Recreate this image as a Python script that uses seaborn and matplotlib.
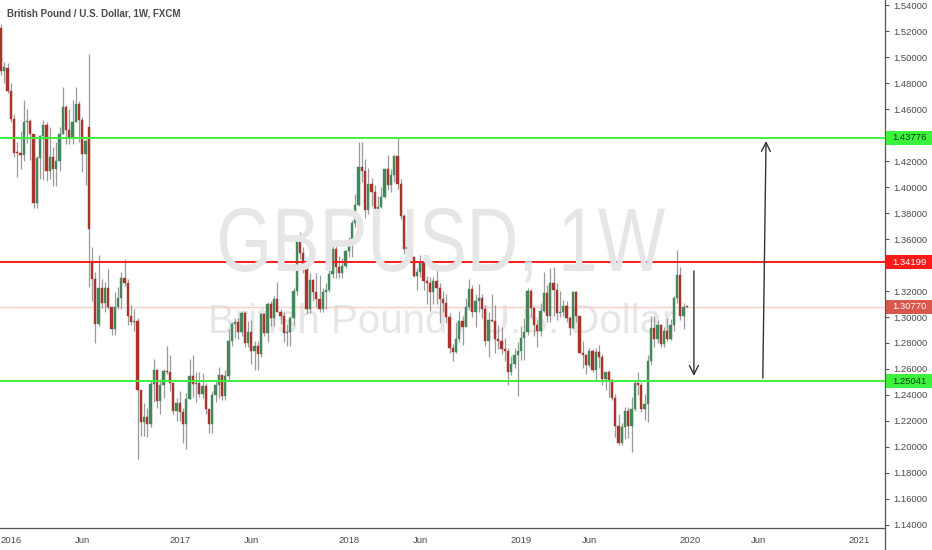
import numpy as np
import pandas as pd
import matplotlib
matplotlib.use("Agg")
import matplotlib.pyplot as plt
import matplotlib.transforms as mtransforms
from matplotlib.patches import Rectangle, PathPatch
from matplotlib.lines import Line2D
from matplotlib.textpath import TextPath
from matplotlib.font_manager import FontProperties
import seaborn as sns

# ---------------- data: GBPUSD weekly candles, week of 2015-12-14 .. 2019-12-30 ----------------
first_week = "2015-12-14"

opens = [
    1.5225, 1.4890, 1.4915, 1.4740, 1.4525, 1.4265, 1.4260, 1.4245, 1.4500, 1.4505,
    1.4405, 1.3880, 1.4225, 1.4395, 1.4480, 1.4125, 1.4230, 1.4135, 1.4200, 1.4405,
    1.4615, 1.4435, 1.4375, 1.4500, 1.4635, 1.4515, 1.4255, 1.4460, 1.3420, 1.3290,
    1.2950, 1.3220, 1.3110, 1.3225, 1.3075, 1.2910, 1.3075, 1.3145, 1.3300, 1.3265,
    1.3005, 1.2960, 1.2970, 1.2436, 1.2195, 1.2230, 1.2180, 1.2485, 1.2590, 1.2350,
    1.2475, 1.2585, 1.2575, 1.2490, 1.2280, 1.2340, 1.2270, 1.2180, 1.2370, 1.2545,
    1.2485, 1.2490, 1.2410, 1.2470, 1.2290, 1.2180, 1.2400, 1.2480, 1.2550, 1.2390,
    1.2545, 1.2815, 1.2945, 1.2960, 1.2885, 1.3030, 1.2800, 1.2885, 1.2740, 1.2780,
    1.2715, 1.3025, 1.2880, 1.3100, 1.2990, 1.3135, 1.3040, 1.3010, 1.2875, 1.2885,
    1.2990, 1.3200, 1.3590, 1.3495, 1.3395, 1.3065, 1.3285, 1.3195, 1.3135, 1.3065,
    1.3195, 1.3210, 1.3330, 1.3525, 1.3385, 1.3335, 1.3390, 1.3505, 1.3565, 1.3725,
    1.3865, 1.4155, 1.4120, 1.3825, 1.4020, 1.3965, 1.3810, 1.3850, 1.3925, 1.4140,
    1.4015, 1.4090, 1.4240, 1.4025, 1.3775, 1.3520, 1.3540, 1.3465, 1.3315, 1.3345,
    1.3415, 1.3275, 1.3265, 1.3195, 1.3280, 1.3220, 1.3135, 1.3110, 1.3000, 1.2765,
    1.2730, 1.2830, 1.2970, 1.2925, 1.3075, 1.3215, 1.3035, 1.3120, 1.3150, 1.3060,
    1.2815, 1.2975, 1.2970, 1.2830, 1.2815, 1.2755, 1.2735, 1.2580, 1.2635, 1.2705,
    1.2740, 1.2840, 1.2885, 1.3200, 1.3070, 1.2940, 1.2895, 1.3045, 1.3185, 1.3010,
    1.3265, 1.3205, 1.3030, 1.3040, 1.3085, 1.2990, 1.2915, 1.3190, 1.3005, 1.2725,
    1.2710, 1.2630, 1.2735, 1.2590, 1.2730, 1.2695, 1.2525, 1.2575, 1.2515, 1.2375,
    1.2165, 1.2030, 1.2150, 1.2280, 1.2160, 1.2290, 1.2490, 1.2475, 1.2290, 1.2330,
    1.2665, 1.2915, 1.2830, 1.2940, 1.2790, 1.2895, 1.2830, 1.2935, 1.3150, 1.3325,
    1.3010, 1.3078,
]
highs = [
    1.5255, 1.4960, 1.4955, 1.4800, 1.4560, 1.4350, 1.4430, 1.4670, 1.4600, 1.4520,
    1.4410, 1.4240, 1.4400, 1.4515, 1.4500, 1.4460, 1.4310, 1.4350, 1.4460, 1.4770,
    1.4630, 1.4600, 1.4670, 1.4770, 1.4660, 1.4535, 1.4370, 1.5020, 1.3535, 1.3350,
    1.3480, 1.3290, 1.3270, 1.3370, 1.3080, 1.3190, 1.3230, 1.3345, 1.3445, 1.3290,
    1.3090, 1.3060, 1.2990, 1.2440, 1.2335, 1.2300, 1.2510, 1.2675, 1.2600, 1.2520,
    1.2600, 1.2775, 1.2705, 1.2490, 1.2380, 1.2430, 1.2300, 1.2415, 1.2675, 1.2705,
    1.2580, 1.2575, 1.2570, 1.2490, 1.2295, 1.2430, 1.2510, 1.2615, 1.2550, 1.2590,
    1.2905, 1.2965, 1.2990, 1.2990, 1.3050, 1.3045, 1.2970, 1.2975, 1.2815, 1.2815,
    1.3030, 1.3030, 1.3115, 1.3125, 1.3165, 1.3270, 1.3060, 1.3035, 1.2950, 1.3010,
    1.3225, 1.3615, 1.3655, 1.3535, 1.3410, 1.3340, 1.3295, 1.3335, 1.3320, 1.3225,
    1.3265, 1.3365, 1.3550, 1.3550, 1.3470, 1.3455, 1.3515, 1.3615, 1.3745, 1.3945,
    1.4345, 1.4345, 1.4215, 1.4145, 1.4070, 1.4015, 1.3930, 1.4000, 1.4150, 1.4245,
    1.4135, 1.4245, 1.4377, 1.4060, 1.3795, 1.3625, 1.3615, 1.3470, 1.3375, 1.3475,
    1.3475, 1.3315, 1.3305, 1.3305, 1.3360, 1.3260, 1.3200, 1.3175, 1.3030, 1.2790,
    1.2965, 1.3045, 1.3005, 1.3145, 1.3295, 1.3250, 1.3175, 1.3255, 1.3175, 1.3090,
    1.3040, 1.3175, 1.3090, 1.2935, 1.2925, 1.2840, 1.2760, 1.2700, 1.2760, 1.2810,
    1.2930, 1.2995, 1.3220, 1.3215, 1.3080, 1.2980, 1.3110, 1.3350, 1.3245, 1.3380,
    1.3385, 1.3260, 1.3200, 1.3130, 1.3120, 1.3010, 1.3200, 1.3200, 1.3010, 1.2815,
    1.2715, 1.2765, 1.2750, 1.2760, 1.2785, 1.2715, 1.2580, 1.2590, 1.2520, 1.2405,
    1.2250, 1.2185, 1.2310, 1.2310, 1.2385, 1.2505, 1.2580, 1.2500, 1.2410, 1.2710,
    1.3010, 1.3010, 1.2975, 1.2945, 1.2925, 1.2990, 1.2985, 1.3165, 1.3515, 1.3385,
    1.3105, 1.3080,
]
lows = [
    1.4860, 1.4800, 1.4720, 1.4500, 1.4230, 1.4080, 1.4140, 1.4200, 1.4340, 1.4210,
    1.3835, 1.3840, 1.4060, 1.4055, 1.4050, 1.4060, 1.4005, 1.4005, 1.4120, 1.4405,
    1.4330, 1.4330, 1.4330, 1.4500, 1.4350, 1.4115, 1.4015, 1.3230, 1.3120, 1.2800,
    1.2930, 1.3070, 1.3040, 1.3060, 1.2860, 1.2865, 1.3060, 1.3060, 1.3235, 1.2940,
    1.2935, 1.2890, 1.1910, 1.2085, 1.2085, 1.2080, 1.2150, 1.2345, 1.2300, 1.2250,
    1.2380, 1.2560, 1.2430, 1.2250, 1.2200, 1.2200, 1.2030, 1.1985, 1.2370, 1.2385,
    1.2345, 1.2385, 1.2380, 1.2255, 1.2110, 1.2110, 1.2345, 1.2375, 1.2365, 1.2365,
    1.2515, 1.2775, 1.2840, 1.2830, 1.2855, 1.2770, 1.2770, 1.2635, 1.2590, 1.2590,
    1.2695, 1.2850, 1.2810, 1.2930, 1.2930, 1.3035, 1.2950, 1.2810, 1.2775, 1.2775,
    1.2935, 1.3170, 1.3450, 1.3340, 1.3025, 1.3030, 1.3125, 1.3080, 1.3040, 1.3040,
    1.3060, 1.3195, 1.3300, 1.3300, 1.3300, 1.3300, 1.3380, 1.3460, 1.3460, 1.3690,
    1.3855, 1.4040, 1.3765, 1.3795, 1.3855, 1.3710, 1.3710, 1.3840, 1.3915, 1.3975,
    1.3965, 1.4040, 1.3985, 1.3755, 1.3485, 1.3450, 1.3445, 1.3305, 1.3205, 1.3305,
    1.3205, 1.3100, 1.3050, 1.3100, 1.3100, 1.2955, 1.3040, 1.2955, 1.2725, 1.2665,
    1.2725, 1.2810, 1.2785, 1.2925, 1.3055, 1.3000, 1.2920, 1.3035, 1.2995, 1.2780,
    1.2695, 1.2960, 1.2725, 1.2755, 1.2715, 1.2660, 1.2475, 1.2550, 1.2605, 1.2395,
    1.2670, 1.2670, 1.2860, 1.3000, 1.2855, 1.2770, 1.2855, 1.3040, 1.2960, 1.2960,
    1.3005, 1.2975, 1.3000, 1.3005, 1.2960, 1.2865, 1.2905, 1.2965, 1.2720, 1.2605,
    1.2560, 1.2615, 1.2575, 1.2505, 1.2605, 1.2480, 1.2440, 1.2385, 1.2360, 1.2080,
    1.2015, 1.2015, 1.2060, 1.2070, 1.1960, 1.2275, 1.2400, 1.2270, 1.2205, 1.2195,
    1.2640, 1.2770, 1.2800, 1.2770, 1.2770, 1.2815, 1.2820, 1.2895, 1.3105, 1.2975,
    1.2905, 1.3070,
]
closes = [
    1.4890, 1.4920, 1.4740, 1.4525, 1.4265, 1.4260, 1.4245, 1.4500, 1.4505, 1.4405,
    1.3880, 1.4225, 1.4395, 1.4480, 1.4125, 1.4230, 1.4135, 1.4200, 1.4405, 1.4615,
    1.4435, 1.4375, 1.4500, 1.4635, 1.4515, 1.4255, 1.4355, 1.3680, 1.3290, 1.2950,
    1.3220, 1.3110, 1.3225, 1.3075, 1.2910, 1.3075, 1.3145, 1.3300, 1.3265, 1.3005,
    1.2960, 1.2970, 1.2436, 1.2195, 1.2230, 1.2180, 1.2485, 1.2590, 1.2350, 1.2475,
    1.2585, 1.2575, 1.2490, 1.2280, 1.2340, 1.2270, 1.2180, 1.2370, 1.2545, 1.2485,
    1.2490, 1.2410, 1.2470, 1.2290, 1.2180, 1.2400, 1.2480, 1.2550, 1.2390, 1.2545,
    1.2815, 1.2945, 1.2960, 1.2885, 1.3030, 1.2800, 1.2885, 1.2740, 1.2780, 1.2715,
    1.3025, 1.2880, 1.3100, 1.2990, 1.3135, 1.3040, 1.3010, 1.2875, 1.2885, 1.2990,
    1.3200, 1.3590, 1.3495, 1.3395, 1.3065, 1.3285, 1.3195, 1.3135, 1.3065, 1.3195,
    1.3210, 1.3330, 1.3525, 1.3385, 1.3335, 1.3390, 1.3505, 1.3565, 1.3725, 1.3865,
    1.4155, 1.4120, 1.3825, 1.4020, 1.3965, 1.3810, 1.3850, 1.3925, 1.4140, 1.4015,
    1.4090, 1.4240, 1.4025, 1.3775, 1.3520, 1.3540, 1.3465, 1.3315, 1.3345, 1.3415,
    1.3275, 1.3265, 1.3195, 1.3280, 1.3220, 1.3135, 1.3110, 1.3000, 1.2765, 1.2730,
    1.2830, 1.2970, 1.2925, 1.3075, 1.3215, 1.3035, 1.3120, 1.3150, 1.3060, 1.2815,
    1.2975, 1.2970, 1.2830, 1.2815, 1.2755, 1.2735, 1.2580, 1.2635, 1.2705, 1.2740,
    1.2840, 1.2885, 1.3200, 1.3070, 1.2940, 1.2895, 1.3045, 1.3185, 1.3010, 1.3265,
    1.3205, 1.3030, 1.3040, 1.3085, 1.2990, 1.2915, 1.3190, 1.3005, 1.2725, 1.2710,
    1.2630, 1.2735, 1.2590, 1.2730, 1.2695, 1.2525, 1.2575, 1.2515, 1.2375, 1.2165,
    1.2030, 1.2150, 1.2280, 1.2160, 1.2290, 1.2490, 1.2475, 1.2290, 1.2330, 1.2665,
    1.2915, 1.2830, 1.2940, 1.2790, 1.2895, 1.2830, 1.2935, 1.3150, 1.3325, 1.3010,
    1.3075, 1.3077,
]

# drawn levels (value, line colour, label box colour, label text colour)
levels = [1.43776, 1.34199, 1.25041]
level_colors = ["#3cf23c", "#ff1a1a", "#3cf23c"]
level_text = ["#0d3d0d", "white", "#0d3d0d"]
last_price = 1.30770

# drawn arrows: (week index, price) tail -> tip
arrow_down = ((213.2, 1.3354), (213.2, 1.2546))
arrow_up = ((234.4, 1.2531), (235.4, 1.4354))

title = "British Pound / U.S. Dollar, 1W, FXCM"
wm_big = "GBPUSD, 1W"
wm_small = "British Pound / U.S. Dollar"

# ---------------- figure ----------------
sns.set_style("white")
plt.rcParams["font.family"] = ["Liberation Sans", "DejaVu Sans"]

W, H = 932, 550
fig = plt.figure(figsize=(W / 100, H / 100), dpi=100)
ax = fig.add_axes([0, 22 / H, 885 / W, 528 / H])

df = pd.DataFrame({"open": opens, "high": highs, "low": lows, "close": closes})
df["date"] = pd.date_range(first_week, periods=len(df), freq="W-MON")
df["idx"] = np.arange(len(df))
up = df["close"] >= df["open"]
green, red, wick = "#44875a", "#a8342b", "#9a9a9a"
colors = np.where(up, green, red)

ax.vlines(df["idx"], df["low"], df["high"], color=wick, lw=0.9, zorder=2)
body = np.maximum((df["close"] - df["open"]).abs(), 0.0006)
ax.bar(df["idx"], body, bottom=np.minimum(df["open"], df["close"]), width=0.62,
       color=colors, edgecolor=colors, linewidth=0.3, zorder=3)

# limits
ax.set_xlim(-0.31, 272.0)
ax.set_ylim(1.13769, 1.54385)

# watermark: big symbol text, squeezed to the narrow look of the original
fp = FontProperties(family="Liberation Sans")
tp = TextPath((0, 0), wm_big, size=100, prop=fp)
cap = TextPath((0, 0), "GBPUSD", size=100, prop=fp).get_extents()
ext = tp.get_extents()
sx = 445 / ext.width
sy = 64 / cap.height
# place: left at x=220 px, baseline at y=271 px from top (display coords from bottom)
wm_tr = mtransforms.Affine2D().translate(-ext.x0, 0).scale(sx, sy).translate(220, H - 271)
fig.add_artist(PathPatch(tp, transform=wm_tr, facecolor="#e6e6e6", edgecolor="none", zorder=0.5))

ax.text(0.4994, 0.369, wm_small, transform=ax.transAxes, ha="center", va="baseline",
        fontsize=29, color="#e6e6e6", zorder=0)
ax.patch.set_alpha(0)

# horizontal levels
ax.axhline(last_price, color="#f6cfcb", lw=1.0, zorder=1)
for lv, c in zip(levels, level_colors):
    ax.axhline(lv, color=c, lw=1.4, zorder=4)

# arrows
for tail, tip in (arrow_down, arrow_up):
    ax.annotate("", xy=tip, xytext=tail,
                arrowprops=dict(arrowstyle="->", color="#333333", lw=1.0,
                                mutation_scale=16, shrinkA=0, shrinkB=0), zorder=5)

# x ticks at first bar of each year / June
all_weeks = pd.date_range(first_week, periods=272, freq="W-MON")
tick_pos, tick_lab = [], []
for i in range(1, len(all_weeks)):
    d, p = all_weeks[i], all_weeks[i - 1]
    if d.year != p.year:
        tick_pos.append(i)
        tick_lab.append(str(d.year))
    elif d.month == 6 and p.month != 6:
        tick_pos.append(i)
        tick_lab.append("Jun")
ax.set_xticks(tick_pos)
ax.set_xticklabels(tick_lab)

# price scale; labels sitting under a level box are hidden, as on the original
yt = np.round(np.arange(1.14, 1.5401, 0.02), 2)
ax.set_yticks(yt)
ax.set_yticklabels(["" if any(abs(v - lv) < 0.006 for lv in levels) else f"{v:.5f}" for v in yt])
ax.yaxis.tick_right()
ax.tick_params(axis="y", length=3, width=0.8, color="#555555", labelsize=6.8,
               labelcolor="#4a4a4a", pad=3)
ax.tick_params(axis="x", length=3, width=0.8, color="#555555", labelsize=6.8,
               labelcolor="#4a4a4a", pad=3)
for s in ["top", "left"]:
    ax.spines[s].set_visible(False)
for s in ["right", "bottom"]:
    ax.spines[s].set_color("#555555")
    ax.spines[s].set_linewidth(0.9)
fig.add_artist(Line2D([885 / W, 885 / W], [0, 22 / H], color="#555555", lw=0.9))

# price label boxes on the scale
trans = mtransforms.blended_transform_factory(ax.transAxes, ax.transData)
box_h = 14 / 1300
box_items = list(zip(levels, level_colors, level_text)) + [(last_price, "#d9574b", "white")]
for lv, fc, tc in box_items:
    ax.add_patch(Rectangle((1 + 1 / 885, lv - box_h / 2), 47 / 885, box_h, transform=trans,
                           facecolor=fc, edgecolor="none", clip_on=False, zorder=6))
    ax.text(1 + 24 / 885, lv, f"{lv:.5f}", transform=trans, ha="center", va="center",
            fontsize=6.8, color=tc, zorder=7, clip_on=False)

fig.text(7 / W, 1 - 13 / H, title, ha="left", va="center", fontsize=7,
         fontweight="bold", color="#4a4a4a")

fig.savefig("out.png", dpi=100, facecolor="white")
